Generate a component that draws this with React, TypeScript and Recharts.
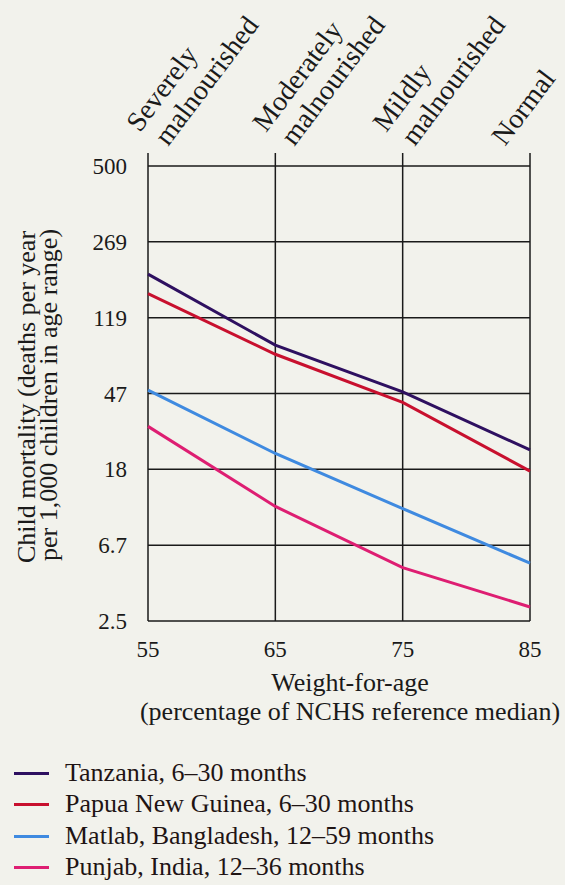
import React from 'react';
import { LineChart, Line, XAxis, YAxis, CartesianGrid } from 'recharts';

const weightForAge = [55, 65, 75, 85];
const zoneLabels = [['Severely', 'malnourished'], ['Moderately', 'malnourished'], ['Mildly', 'malnourished'], ['Normal']];
const yTickValues = [2.5, 6.7, 18, 47, 119, 269, 500];

const seriesNames = ['Tanzania, 6–30 months', 'Papua New Guinea, 6–30 months', 'Matlab, Bangladesh, 12–59 months', 'Punjab, India, 12–36 months'];
const seriesColors = ['#2e1060', '#c8102e', '#3f8ae0', '#de1e72'];
const tanzania = [190, 85, 48, 23];
const papua = [154, 76, 42, 17.6];
const matlab = [49, 22, 10.8, 5.3];
const punjab = [31, 11.1, 5.0, 3.0];

const FONT = '"Liberation Serif", "Times New Roman", serif';
const BG = '#f2f2ec';

// the printed axis spaces its labels evenly, so map values piecewise-log onto tick index
const toScale = (v: number) => {
  for (let i = 0; i < yTickValues.length - 1; i++) {
    const a = yTickValues[i];
    const b = yTickValues[i + 1];
    if (v <= b || i === yTickValues.length - 2) {
      return i + Math.log(v / a) / Math.log(b / a);
    }
  }
  return 0;
};

const allSeries = [tanzania, papua, matlab, punjab];
const keys = ['tanzania', 'papua', 'matlab', 'punjab'];

const data = weightForAge.map((w, i) => {
  const row: any = { w };
  keys.forEach((k, s) => {
    row[k] = toScale(allSeries[s][i]);
  });
  return row;
});

const zoneOffsets = [20, 19, 12, -25];

const TopTick = (props: any) => {
  const { x, index } = props;
  const lines = zoneLabels[index] || [];
  return (
    <text
      transform={`translate(${x + zoneOffsets[index]},147) rotate(-53)`}
      fontFamily={FONT}
      fontSize={28}
      fill="#1a1a1a"
    >
      {lines.map((l, i) => (
        <tspan key={i} x={lines.length === 2 && i === 0 ? -6 : 0} y={lines.length === 2 && i === 0 ? -31 : 0}>
          {l}
        </tspan>
      ))}
    </text>
  );
};

const YTitle = () => (
  <g fontFamily={FONT} fontSize={26} fill="#1a1a1a">
    <text transform="translate(35,397) rotate(-90)" textAnchor="middle">
      Child mortality (deaths per year
    </text>
    <text transform="translate(57,395) rotate(-90)" textAnchor="middle">
      per 1,000 children in age range)
    </text>
  </g>
);

const XTitle = () => (
  <g fontFamily={FONT} fontSize={26} fill="#1a1a1a">
    <text x={350} y={691} textAnchor="middle">Weight-for-age</text>
    <text x={350} y={720} textAnchor="middle">(percentage of NCHS reference median)</text>
  </g>
);

const legendRows = [773, 804, 836, 867];

export default function App() {
  return (
    <div style={{ position: 'absolute', left: 0, top: 0, width: 565, height: 885, background: BG, overflow: 'hidden' }}>
      <LineChart width={565} height={885} data={data} margin={{ top: 0, right: 35, bottom: 0, left: 0 }}>
        <CartesianGrid stroke="#1a1a1a" strokeWidth={1.5} />
        <XAxis
          dataKey="w"
          type="number"
          domain={[55, 85]}
          ticks={weightForAge}
          height={264}
          axisLine={false}
          tickLine={false}
          tickSize={0}
          tickMargin={20}
          tick={{ fontFamily: FONT, fontSize: 23, fill: '#1a1a1a' }}
          label={{ content: () => <XTitle /> }}
        />
        <XAxis
          xAxisId="top"
          orientation="top"
          dataKey="w"
          type="number"
          domain={[55, 85]}
          ticks={weightForAge}
          height={166}
          axisLine={false}
          tickSize={13}
          tickLine={{ stroke: '#1a1a1a', strokeWidth: 1.5 }}
          tick={<TopTick />}
        />
        <YAxis
          type="number"
          domain={[0, 6]}
          ticks={[0, 1, 2, 3, 4, 5, 6]}
          tickFormatter={(v: number) => String(yTickValues[v])}
          width={148}
          axisLine={false}
          tickLine={false}
          tickSize={0}
          tickMargin={21}
          tick={{ fontFamily: FONT, fontSize: 23, fill: '#1a1a1a' }}
          label={{ content: () => <YTitle /> }}
        />
        {keys.map((k, s) => (
          <Line
            key={k}
            dataKey={k}
            name={seriesNames[s]}
            type="linear"
            stroke={seriesColors[s]}
            strokeWidth={3}
            dot={false}
            isAnimationActive={false}
          />
        ))}
      </LineChart>
      {seriesNames.map((n, s) => (
        <div
          key={n}
          style={{
            position: 'absolute',
            left: 14,
            top: legendRows[s] - 16,
            height: 32,
            display: 'flex',
            alignItems: 'center',
            fontFamily: FONT,
            fontSize: 26,
            color: '#1f1414',
            whiteSpace: 'nowrap',
          }}
        >
          <span style={{ display: 'inline-block', width: 35, height: 3, background: seriesColors[s], marginRight: 16 }} />
          {n}
        </div>
      ))}
    </div>
  );
}
